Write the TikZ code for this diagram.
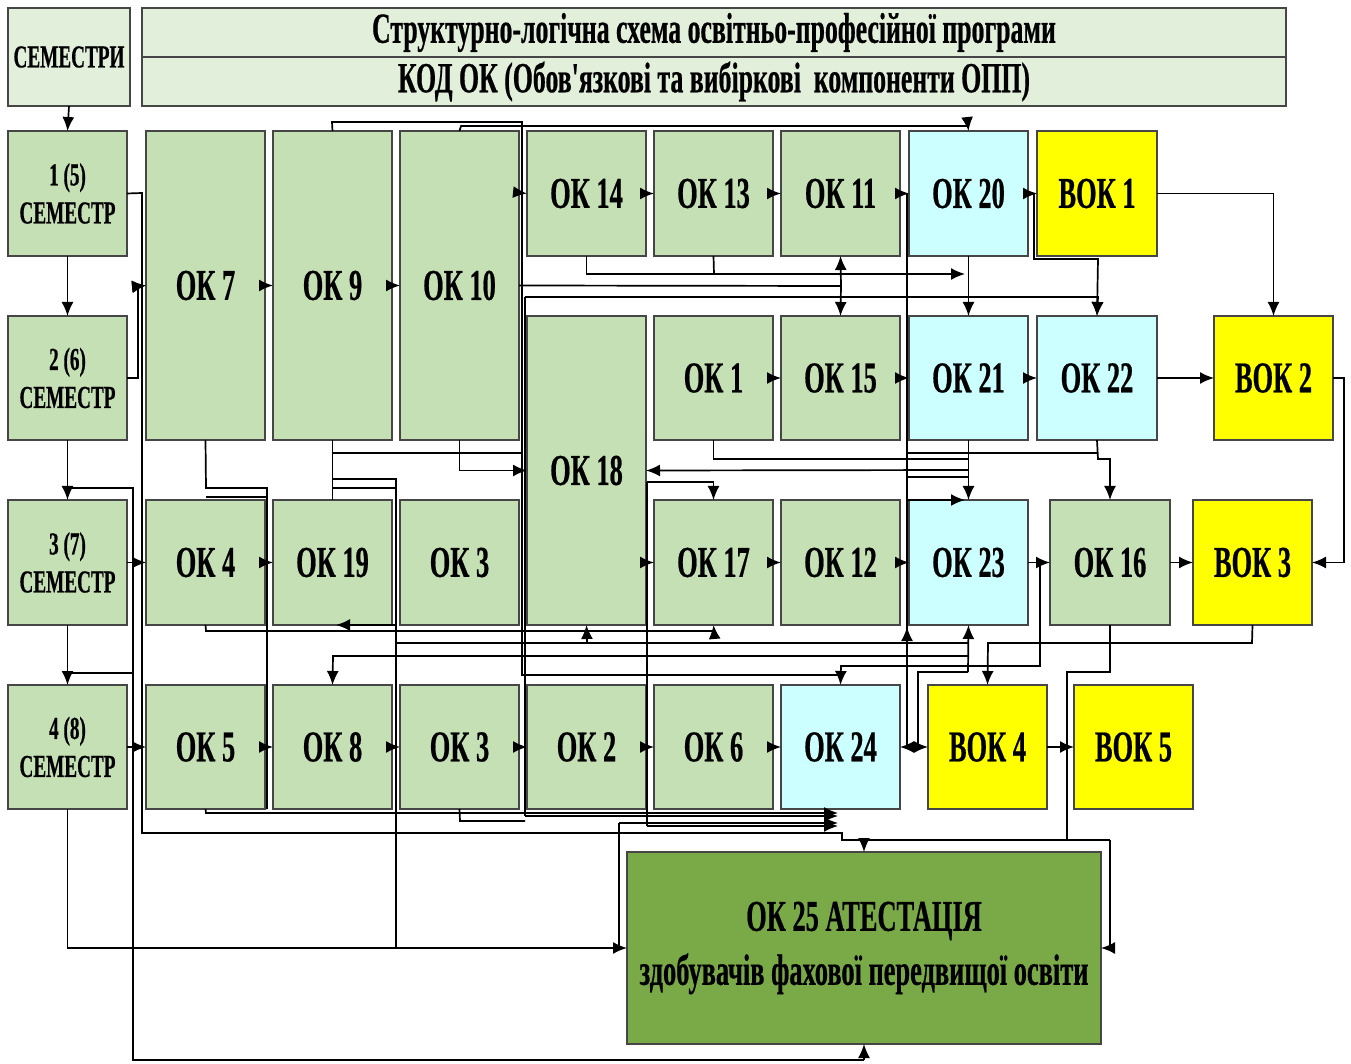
\documentclass[tikz,border=0pt]{standalone}
\usepackage{fontspec}
\setmainfont{Liberation Serif}[FakeStretch=0.6, BoldFeatures={FakeBold=0.5}]
\newfontfamily\aposfont{Liberation Serif}[FakeStretch=0.6, BoldFeatures={FakeBold=0.5}]
\usetikzlibrary{arrows.meta}
\definecolor{lg}{RGB}{197,224,180}
\definecolor{cy}{RGB}{204,255,255}
\definecolor{yl}{RGB}{255,255,0}
\definecolor{hd}{RGB}{226,239,218}
\definecolor{dg}{RGB}{122,170,72}
\definecolor{bd}{RGB}{70,70,70}
\newcommand\bx[7]{\node[#6, minimum width={(#4-#2)*0.5pt}, minimum height={(#5-#3)*0.5pt}] (#1) at ({(#2+#4)/2},{(#3+#5)/2}) {#7};}
\tikzset{
  box/.style={draw=bd, line width=0.6pt, inner sep=0pt, outer sep=0pt, align=center, font=\fontsize{22}{24}\selectfont\bfseries},
  gbox/.style={box, fill=lg},
  cbox/.style={box, fill=cy},
  ybox/.style={box, fill=yl},
  sbox/.style={box, fill=lg, font=\fontsize{16}{19}\selectfont\bfseries},
  hbox/.style={box, fill=hd, font=\fontsize{21.5}{24}\selectfont\bfseries},
  wire/.style={draw=black, line width=0.85pt},
  arr/.style={wire, -{Latex[length=7pt,width=6pt]}}
}
\begin{document}
\begin{tikzpicture}[x=0.5pt,y=-0.5pt]
\fill[white] (0,0) rectangle (1351,1064);
\useasboundingbox (0,0) rectangle (1351,1064);
% header
\bx{hsem}{8}{8}{130}{106}{box,fill=hd,font=\fontsize{16}{18}\selectfont\bfseries}{СЕМЕСТРИ}
\bx{htitle}{142}{8}{1286}{57}{hbox}{Структурно-логічна схема освітньо-професійної програми}
\bx{hcode}{142}{57}{1286}{106}{hbox}{КОД ОК (Обов{\aposfont\bfseries '}язкові та вибіркові\ \ компоненти ОПП)}
% semesters
\bx{s1}{8}{131}{127}{256}{sbox}{1 (5)\\СЕМЕСТР}
\bx{s2}{8}{316}{127}{440}{sbox}{2 (6)\\СЕМЕСТР}
\bx{s3}{8}{500}{127}{625}{sbox}{3 (7)\\СЕМЕСТР}
\bx{s4}{8}{685}{127}{809}{sbox}{4 (8)\\СЕМЕСТР}
% row 1
\bx{ok7}{146}{131}{265}{440}{gbox}{ОК 7}
\bx{ok9}{273}{131}{392}{440}{gbox}{ОК 9}
\bx{ok10}{400}{131}{519}{440}{gbox}{ОК 10}
\bx{ok14}{527}{131}{646}{256}{gbox}{ОК 14}
\bx{ok13}{654}{131}{773}{256}{gbox}{ОК 13}
\bx{ok11}{781}{131}{900}{256}{gbox}{ОК 11}
\bx{ok20}{909}{131}{1028}{256}{cbox}{ОК 20}
\bx{bok1}{1037}{131}{1157}{256}{ybox}{ВОК 1}
% row 2
\bx{ok18}{527}{316}{646}{625}{gbox}{ОК 18}
\bx{ok1}{654}{316}{773}{440}{gbox}{ОК 1}
\bx{ok15}{781}{316}{900}{440}{gbox}{ОК 15}
\bx{ok21}{909}{316}{1028}{440}{cbox}{ОК 21}
\bx{ok22}{1037}{316}{1157}{440}{cbox}{ОК 22}
\bx{bok2}{1214}{316}{1333}{440}{ybox}{ВОК 2}
% row 3
\bx{ok4}{146}{500}{265}{625}{gbox}{ОК 4}
\bx{ok19}{273}{500}{392}{625}{gbox}{ОК 19}
\bx{ok3a}{400}{500}{519}{625}{gbox}{ОК 3}
\bx{ok17}{654}{500}{773}{625}{gbox}{ОК 17}
\bx{ok12}{781}{500}{900}{625}{gbox}{ОК 12}
\bx{ok23}{909}{500}{1028}{625}{cbox}{ОК 23}
\bx{ok16}{1050}{500}{1170}{625}{gbox}{ОК 16}
\bx{bok3}{1193}{500}{1312}{625}{ybox}{ВОК 3}
% row 4
\bx{ok5}{146}{685}{265}{809}{gbox}{ОК 5}
\bx{ok8}{273}{685}{392}{809}{gbox}{ОК 8}
\bx{ok3b}{400}{685}{519}{809}{gbox}{ОК 3}
\bx{ok2}{527}{685}{646}{809}{gbox}{ОК 2}
\bx{ok6}{654}{685}{773}{809}{gbox}{ОК 6}
\bx{ok24}{781}{685}{900}{809}{cbox}{ОК 24}
\bx{bok4}{928}{685}{1047}{809}{ybox}{ВОК 4}
\bx{bok5}{1074}{685}{1193}{809}{ybox}{ВОК 5}
% final
\bx{ok25}{627}{852}{1101}{1044}{box,fill=dg,font=\fontsize{22}{27}\selectfont\bfseries}{ОК 25 АТЕСТАЦІЯ\\здобувачів фахової передвищої освіти}

% ---- semester chain
\draw[arr] (hsem.south) -- (s1.north);
\draw[arr] (s1.south) -- (s2.north);
\draw[arr] (s2.south) -- (s3.north);
\draw[arr] (s3.south) -- (s4.north);
\draw[arr] (s1.east) -- (142,193) -- (142,286) -- (ok7.west);
\draw[arr] (s2.east) -- (138,378) -- (138,286) -- (ok7.west);
\draw[arr] (s3.east) -- (ok4.west);
\draw[arr] (s4.east) -- (ok5.west);
\draw[wire] (142,286) -- (142,833) -- (842,833) -- (842,840) -- (1110,840);
\draw[arr] (1110,840) -- (1110,948) -- (ok25.east);
\draw[arr] (864,840) -- (ok25.north);
\draw[arr] (s4.south) |- (ok25.west);
\draw[wire] (67,488) -- (133,488) -- (133,1060) -- (864,1060);
\draw[arr] (864,1060) -- (ok25.south);
\draw[wire] (67,673) -- (133,673);
% ---- row arrows
\draw[arr] (ok7.east) -- (ok9.west);
\draw[arr] (ok9.east) -- (ok10.west);
\draw[arr] (ok14.east) -- (ok13.west);
\draw[arr] (ok13.east) -- (ok11.west);
\draw[arr] (ok11.east) -- (ok20.west);
\draw[arr] (ok20.east) -- (bok1.west);
\draw[arr] (ok1.east) -- (ok15.west);
\draw[arr] (ok15.east) -- (ok21.west);
\draw[arr] (ok21.east) -- (ok22.west);
\draw[arr] (ok22.east) -- (bok2.west);
\draw[arr] (ok4.east) -- (ok19.west);
\draw[arr] (ok18.east |- ok17.west) -- (ok17.west);
\draw[arr] (ok17.east) -- (ok12.west);
\draw[arr] (ok12.east) -- (ok23.west);
\draw[arr] (ok23.east) -- (ok16.west);
\draw[arr] (ok16.east) -- (bok3.west);
\draw[arr] (ok5.east) -- (ok8.west);
\draw[arr] (ok8.east) -- (ok3b.west);
\draw[arr] (ok3b.east) -- (ok2.west);
\draw[arr] (ok2.east) -- (ok6.west);
\draw[arr] (ok6.east) -- (ok24.west);
\draw[arr] (907,747) -- (ok24.east);
\draw[arr] (918,747) -- (bok4.west);
\draw[arr] (bok4.east) -- (bok5.west);
% ---- top buses
\draw[arr] (ok9.north) -- (332,122) -- (522,122) -- (522,193) -- (ok14.west);
\draw[wire] (522,193) -- (522,675) -- (841,675);
\draw[arr] (ok10.north) -- (461,126) -- (968,126) -- (ok20.north);
\draw[arr] (ok10.east) -- (841,286) -- (ok11.south);
\draw[arr] (841,286) -- (ok15.north);
\draw[arr] (525,297) -- (1098,297) -- (ok22.north);
\draw[wire] (525,297) -- (525,816);
\draw[arr] (ok14.south) |- (965,274);
\draw[wire] (ok13.south) -- (714,274);
\draw[arr] (ok20.south) -- (ok21.north);
\draw[arr] (1034,193) -- (1034,259) -- (1098,259) -- (ok22.north);
\draw[arr] (bok1.east) -| (bok2.north);
\draw[arr] (bok2.east) -- (1344,378) |- (bok3.east);
% ---- row 2 / row 3 gap
\draw[wire] (907,193) -- (907,747);
\draw[wire] (907,453) -- (1098,453);
\draw[wire] (907,477) -- (968,477);
\draw[arr] (907,500) -- (965,500);
\draw[wire] (ok1.south) |- (968,459);
\draw[arr] (ok21.south) -- (ok23.north);
\draw[arr] (968,470) -- (ok18.east);
\draw[arr] (ok22.south) -- (1098,459) -| (ok16.north);
\draw[arr] (647,482) -| (ok17.north);
\draw[wire] (647,482) -- (647,826);
\draw[wire] (ok7.south) -- (206,488) -- (267,488) -- (267,809);
\draw[wire] (206,497) -- (267,497);
\draw[wire] (ok9.south) -- (ok19.north);
\draw[wire] (332,453) -- (522,453);
\draw[wire] (332,479) -- (396,479) -- (396,948);
\draw[wire] (332,488) -- (396,488);
\draw[arr] (ok10.south) |- (ok18.west);
% ---- row 3 / row 4 gap
\draw[arr] (ok4.south) -- (206,631) -- (714,631) -- (ok17.south);
\draw[arr] (396,625) -- (336,625);
\draw[wire] (396,643) -- (968,643);
\draw[arr] (587,643) -- (ok18.south);
\draw[arr] (968,656) -- (333,656) -- (ok8.north);
\draw[arr] (968,672) -- (ok23.south);
\draw[wire] (968,672) -- (918,672) -- (918,747);
\draw[arr] (907,645) -- (907,627);
\draw[arr] (1040,562) -- (1040,666) -- (841,666) -- (ok24.north);
\draw[arr] (bok3.south) -- (1252,643) -- (988,643) -- (bok4.north);
\draw[wire] (ok16.south) -- (1110,672) -- (1067,672) -- (1067,840);
% ---- below row 4
\draw[arr] (ok5.south) -- (206,813) -- (838,813);
\draw[arr] (525,816) -- (838,816);
\draw[wire] (ok3b.south) -- (460,821) -- (525,821);
\draw[arr] (619,823) -- (838,823);
\draw[wire] (619,823) -- (619,948);
\draw[arr] (647,826) -- (838,826);
\end{tikzpicture}
\end{document}
